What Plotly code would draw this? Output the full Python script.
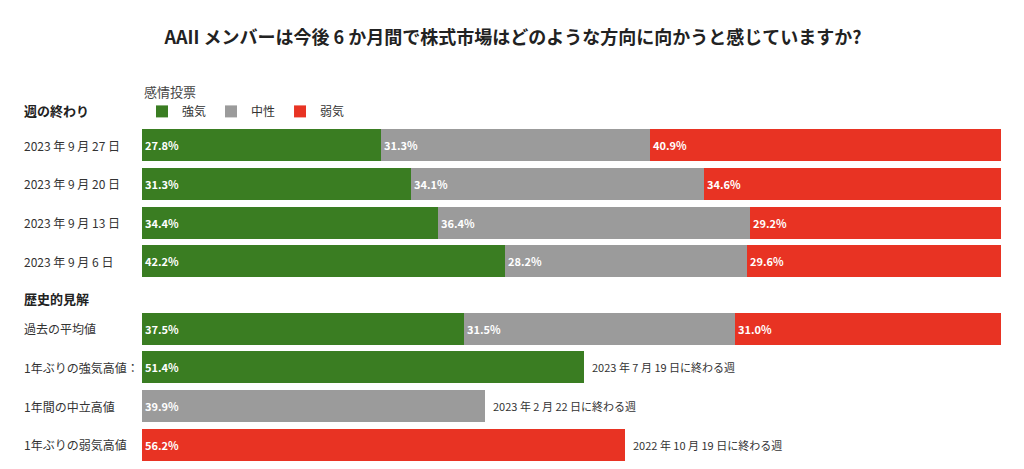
import plotly.graph_objects as go

FONT = "Noto Sans CJK JP"

row_labels = ["2023 年 9 月 27 日", "2023 年 9 月 20 日", "2023 年 9 月 13 日", "2023 年 9 月 6 日",
              "過去の平均値", "1年ぶりの強気高値：", "1年間の中立高値", "1年ぶりの弱気高値"]
row_pos = [0, 1, 2, 3, 4.75, 5.75, 6.75, 7.75]

bullish = [27.8, 31.3, 34.4, 42.2, 37.5, 51.4, 0, 0]
neutral = [31.3, 34.1, 36.4, 28.2, 31.5, 0, 39.9, 0]
bearish = [40.9, 34.6, 29.2, 29.6, 31.0, 0, 0, 56.2]

notes = [(5.75, 51.4, "2023 年 7 月 19 日に終わる週"),
         (6.75, 39.9, "2023 年 2 月 22 日に終わる週"),
         (7.75, 56.2, "2022 年 10 月 19 日に終わる週")]

series = [("強気", bullish, "#3a7d22"), ("中性", neutral, "#9b9b9b"), ("弱気", bearish, "#e83323")]

fig = go.Figure()
for name, vals, color in series:
    fig.add_trace(go.Bar(
        y=row_pos, x=vals, name=name, orientation="h", width=0.83,
        marker=dict(color=color, line=dict(width=0)),
        text=[f"<b>{v:.1f}%</b>" if v else "" for v in vals],
        textposition="inside", insidetextanchor="start",
        textfont=dict(color="white", size=11, family=FONT),
        hoverinfo="x+name"))

anns = []
lx = -(134 - 14) / 859
for p, lab in zip(row_pos, row_labels):
    anns.append(dict(x=lx, xref="paper", y=p, yref="y", text=lab, showarrow=False,
                     xanchor="left", font=dict(size=12, color="#333", family=FONT)))
# section headers, in paper coordinates (plot area spans 338 px)
for txt, py_ in [("<b>週の終わり</b>", 110), ("<b>歴史的見解</b>", 298)]:
    anns.append(dict(x=lx, xref="paper", y=(464 - py_) / 338, yref="paper", text=txt,
                     showarrow=False, xanchor="left", yanchor="middle",
                     font=dict(size=13, color="#222", family=FONT)))
for p, v, t in notes:
    anns.append(dict(x=v, y=p, text=t, showarrow=False, xanchor="left", xshift=6,
                     font=dict(size=11, color="#333", family=FONT)))

fig.update_layout(
    width=1010, height=461, barmode="stack", bargap=0,
    plot_bgcolor="white", paper_bgcolor="white",
    margin=dict(l=134, r=17, t=118, b=5),
    title=dict(text="<b>AAII メンバーは今後 6 か月間で株式市場はどのような方向に向かうと感じていますか?</b>",
               x=0.5, xanchor="center", y=0.95, font=dict(size=18, color="#222", family=FONT)),
    xaxis=dict(range=[0, 100], visible=False),
    yaxis=dict(range=[8.25, -0.5], visible=False),
    legend=dict(orientation="h", x=0, xanchor="left", y=1.0, yanchor="bottom",
                title=dict(text="感情投票", side="top", font=dict(size=13, color="#444", family=FONT)),
                font=dict(size=12, color="#333", family=FONT), itemwidth=30,
                tracegroupgap=0, traceorder="normal"),
    annotations=anns,
    font=dict(family=FONT),
)

fig.write_html("out.html")
